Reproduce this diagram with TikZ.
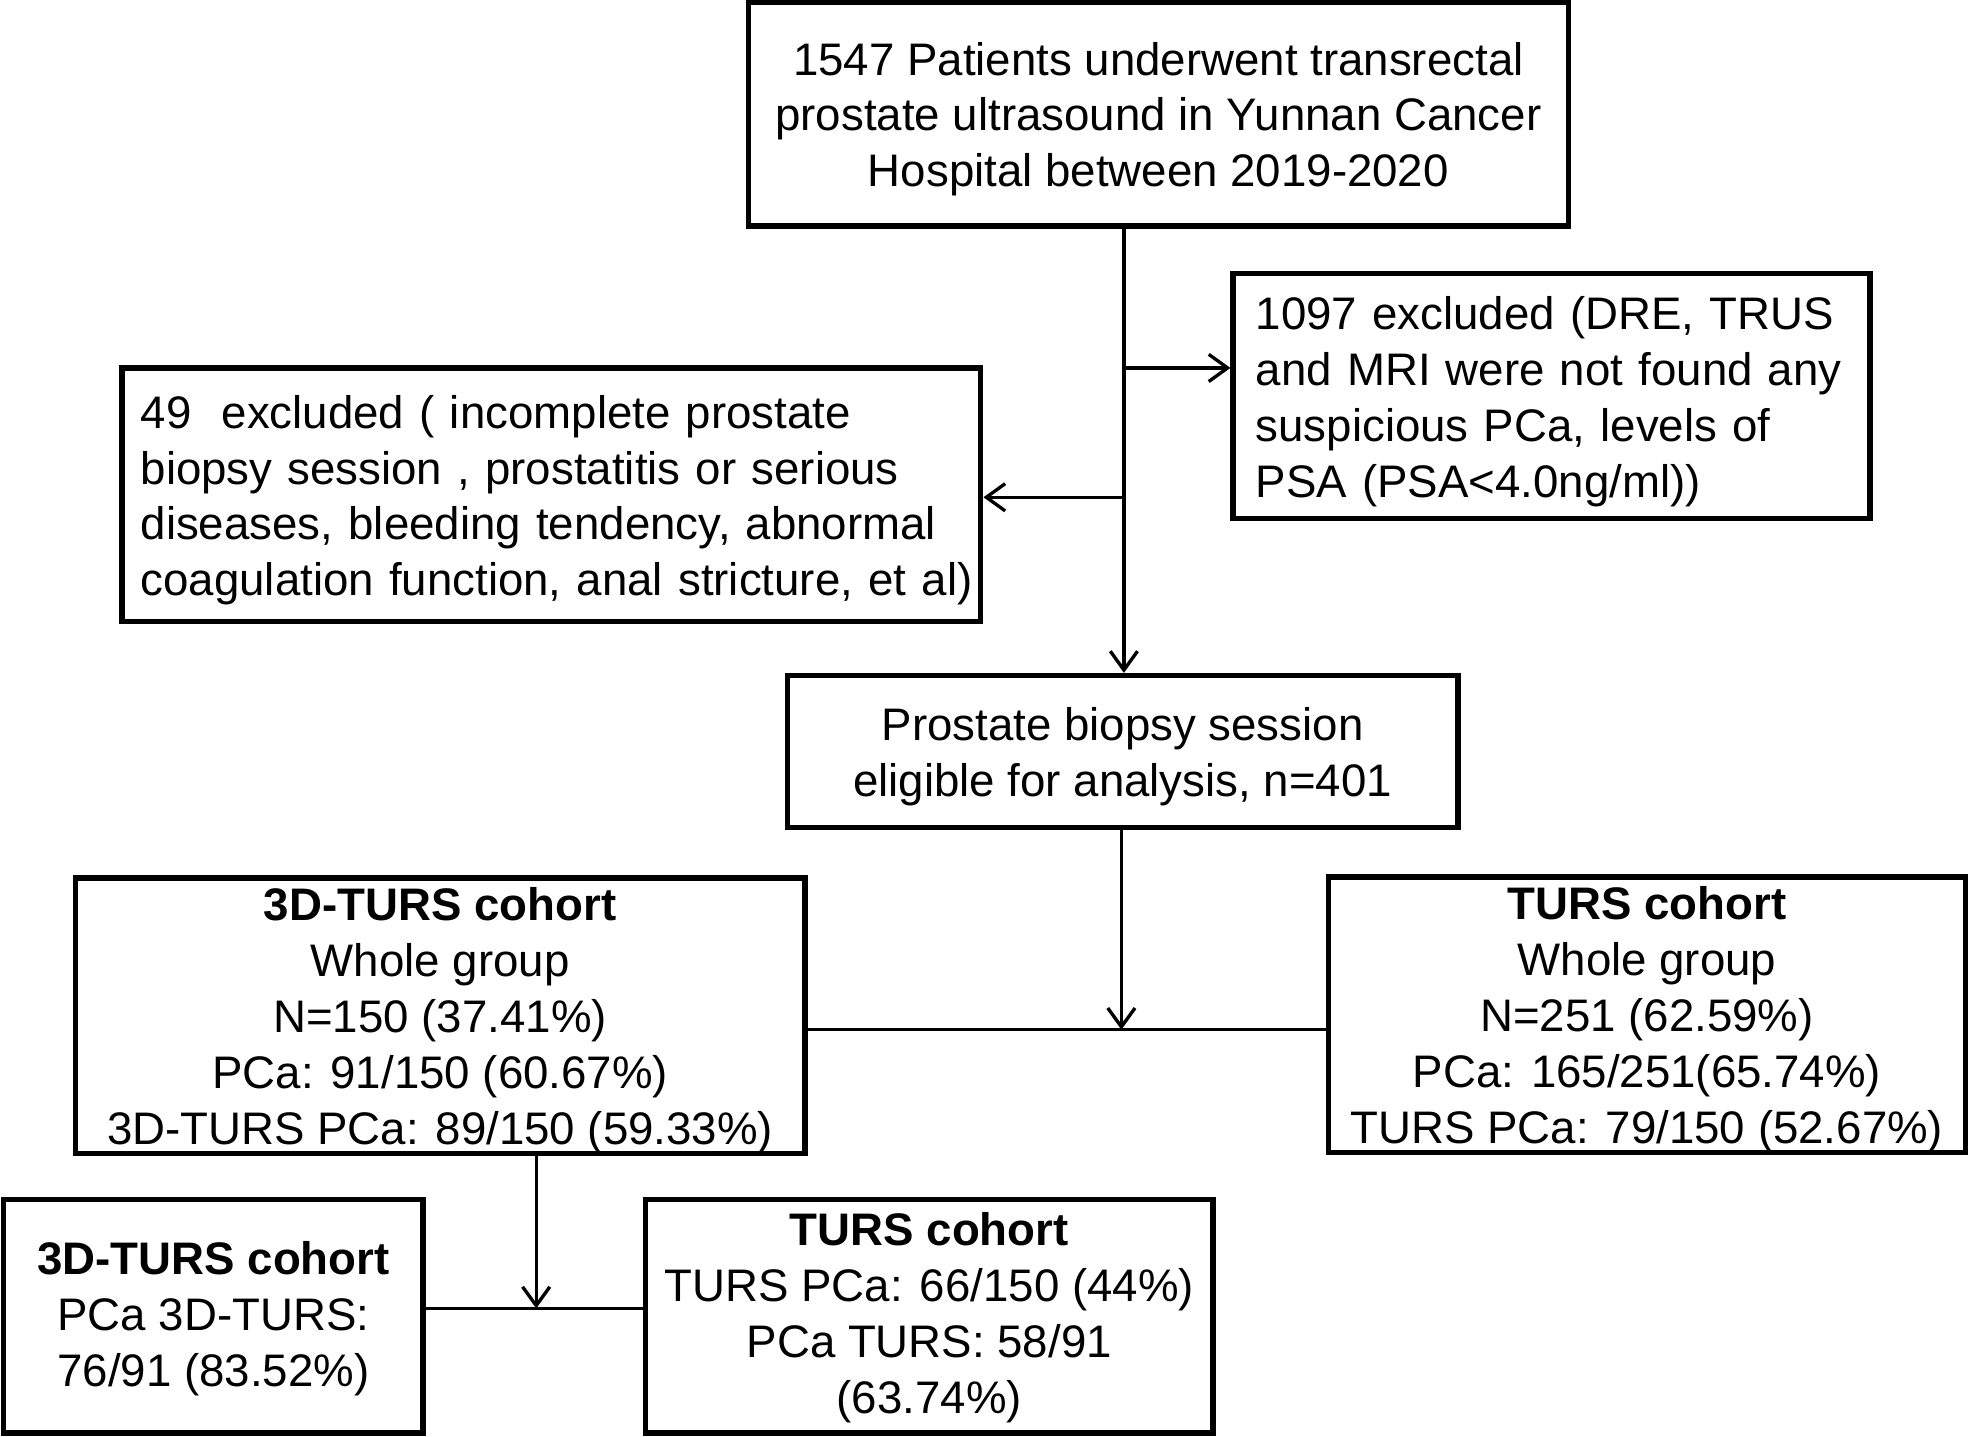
\documentclass[tikz,border=0pt]{standalone}
\usepackage{fontspec}
\setmainfont{Liberation Sans}
\usetikzlibrary{arrows.meta}
\newcommand{\firststrut}[1]{\rule{0pt}{#1}}
\begin{document}
\begin{tikzpicture}[x=0.6pt,y=-0.6pt,
  box/.style={draw, line width=2.6pt, rectangle, inner sep=0pt, align=center,
    font=\fontsize{21.8}{26.7}\selectfont},
  lbox/.style={box, align=left},
  conn/.style={line width=1.6pt},
  arr/.style={conn, -{Straight Barb[length=9pt,width=13pt,line width=1.6pt]}}]
\useasboundingbox (0,0) rectangle (1568,1144);
\node[box, minimum width=391.8pt, minimum height=106.8pt] (top) at (922.5,91)
  {\firststrut{20.4pt}1547 Patients underwent transrectal\\prostate ultrasound in Yunnan Cancer\\Hospital between 2019-2020};
\node[lbox, minimum width=304.2pt, minimum height=117pt, text width=282.6pt] (rexcl) at (1235.5,315.5)
  {\mbox{\firststrut{21pt}1097 excluded (DRE, TRUS}\\\mbox{and MRI were not found any}\\\mbox{suspicious PCa, levels of}\\\mbox{PSA (PSA<4.0ng/ml))}};
\node[lbox, minimum width=410.4pt, minimum height=121.2pt, text width=392.4pt] (lexcl) at (439,394)
  {\mbox{\firststrut{21pt}49\ \ excluded ( incomplete prostate}\\\mbox{biopsy session , prostatitis or serious}\\\mbox{diseases, bleeding tendency, abnormal}\\\mbox{coagulation function, anal stricture, et al)}};
\node[box, minimum width=320.4pt, minimum height=72.6pt] (mid) at (894,598.5)
  {\firststrut{20.4pt}Prostate biopsy session\\eligible for analysis, n=401};
\node[box, minimum width=348.6pt, minimum height=130.8pt] (lcoh) at (350.5,809)
  {\firststrut{20.4pt}\textbf{3D-TURS cohort}\\Whole group\\N=150 (37.41\%)\\PCa: 91/150 (60.67\%)\\3D-TURS PCa: 89/150 (59.33\%)};
\node[box, minimum width=304.2pt, minimum height=129.6pt] (rcoh) at (1311.5,808)
  {\firststrut{20.4pt}\textbf{TURS cohort}\\Whole group\\N=251 (62.59\%)\\PCa: 165/251(65.74\%)\\TURS PCa: 79/150 (52.67\%)};
\node[box, minimum width=200.4pt, minimum height=111.6pt] (bl) at (170,1048)
  {\firststrut{18.4pt}\textbf{3D-TURS cohort}\\PCa 3D-TURS:\\76/91 (83.52\%)};
\node[box, minimum width=271.2pt, minimum height=111.6pt] (br) at (740,1048)
  {\firststrut{17.4pt}\textbf{TURS cohort}\\TURS PCa: 66/150 (44\%)\\PCa TURS: 58/91\\(63.74\%)};
% connectors
\coordinate (j0) at (895,180);
\coordinate (jr) at (895,293);
\coordinate (jl) at (895,396);
\draw[arr] (j0) -- (j0 |- mid.north);
\draw[arr] (jr) -- (jr -| rexcl.west);
\draw[arr] (jl) -- (jl -| lexcl.east);
\coordinate (j2) at (893,820);
\draw[conn] (j2 -| lcoh.east) -- (j2 -| rcoh.west);
\draw[arr] (j2 |- mid.south) -- (j2);
\coordinate (j3) at (427,1042);
\draw[conn] (j3 -| bl.east) -- (j3 -| br.west);
\draw[arr] (j3 |- lcoh.south) -- (j3);
\end{tikzpicture}
\end{document}
